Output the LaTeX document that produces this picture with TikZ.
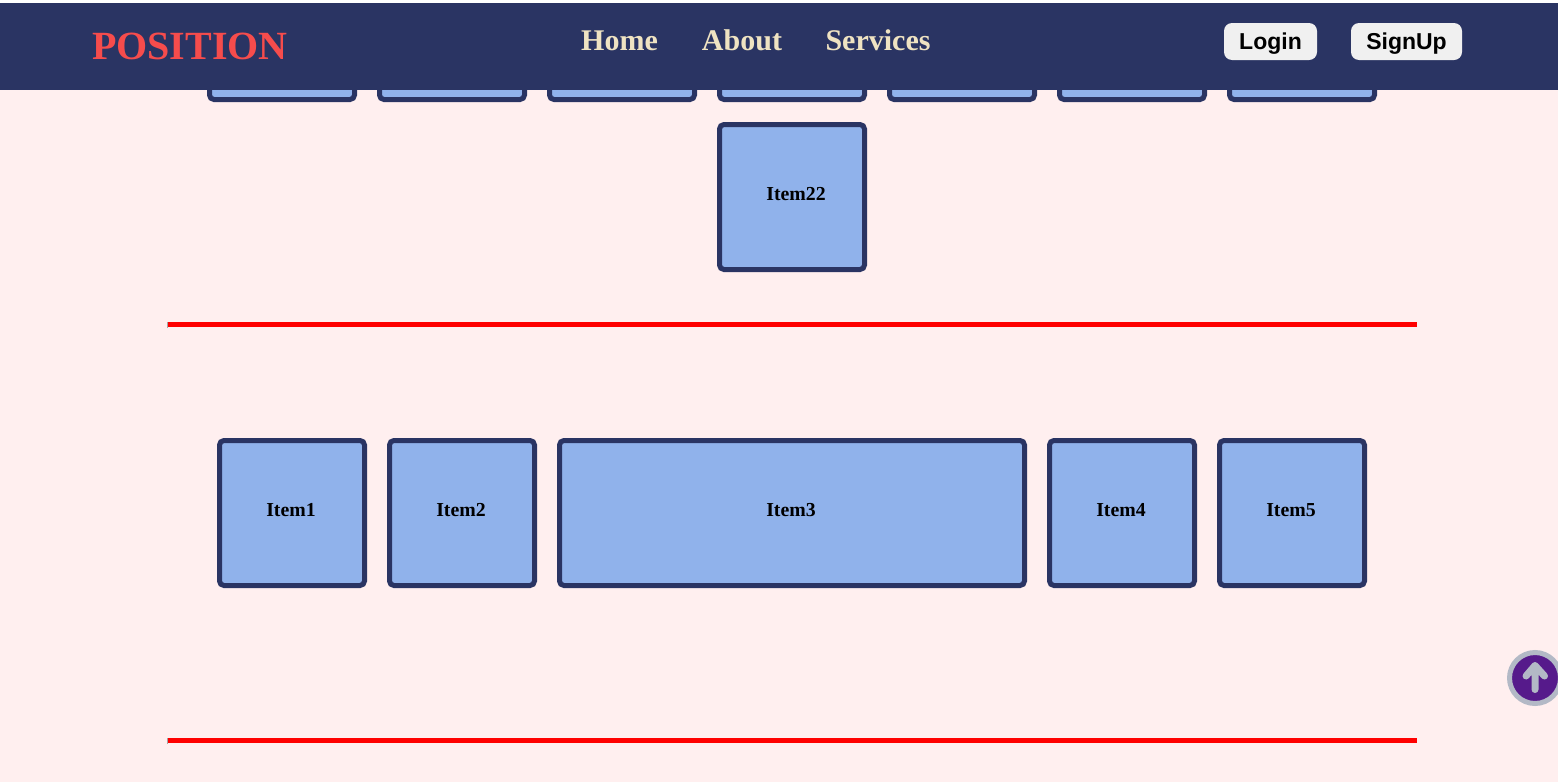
\documentclass[tikz,border=0pt]{standalone}
\usepackage{xcolor}
\usepackage{fontspec}
\setmainfont{Liberation Serif}
\setsansfont{Liberation Sans}
\usepackage{tikz}
\usetikzlibrary{positioning}
\definecolor{navy}{HTML}{2A3463}
\definecolor{pagebg}{HTML}{FFEFEF}
\definecolor{itemblue}{HTML}{90B2EB}
\definecolor{logored}{HTML}{F64C4C}
\definecolor{navcream}{HTML}{EFE3C2}
\definecolor{btngray}{HTML}{F0F0F0}
\definecolor{upring}{HTML}{B3B9C6}
\definecolor{uppurple}{HTML}{561A8B}

\begin{document}
\begin{tikzpicture}[
    x=1pt, y=-1pt,
    node distance=20pt,
    box/.style={draw=navy, fill=itemblue, line width=5pt, rounded corners=4.5pt,
                minimum width=145pt, minimum height=145pt, inner sep=0pt},
    stub/.style={box, minimum height=22pt},
    itemtext/.style={inner sep=0pt, font=\fontsize{19.8}{23}\selectfont\bfseries},
    navlink/.style={inner sep=0pt, text=navcream, text height=21pt, text depth=0pt,
                font=\fontsize{30}{34}\selectfont\bfseries},
    btn/.style={fill=btngray, rounded corners=8pt, minimum height=37pt, inner sep=0pt,
                text height=22pt, text depth=6pt,
                font=\fontsize{23}{27}\selectfont\sffamily\bfseries},
    rule/.style={fill=red, minimum width=1249pt, minimum height=5pt, inner sep=0pt}
]
\useasboundingbox (0,0) rectangle (1558,782);
\fill[white] (0,0) rectangle (1558,782);
\fill[pagebg] (0,3) rectangle (1558,782);

% rows that scroll under the header
\node[stub, anchor=south west] (top1) at (207,102) {};
\node[stub, right=of top1] (top2) {};
\node[stub, right=of top2] (top3) {};
\node[stub, right=of top3] (top4) {};
\node[stub, right=of top4] (top5) {};
\node[stub, right=of top5] (top6) {};
\node[stub, right=of top6] (top7) {};
\node[box, anchor=north west] (item22) at (717,122) {};
\node[itemtext] (label22) at (796,194) {Item22};

\fill[gray!70] (167,322) rectangle (168,328);
\node[rule, anchor=north west] (rule1) at (168,322) {};

% second row
\node[box, anchor=north west] (item1) at (217,438) {};
\node[box, right=of item1] (item2) {};
\node[box, right=of item2, minimum width=465pt] (item3) {};
\node[box, right=of item3] (item4) {};
\node[box, right=of item4] (item5) {};
\node[itemtext] (label1) at (291,510) {Item1};
\node[itemtext] (label2) at (461,510) {Item2};
\node[itemtext] (label3) at (791,510) {Item3};
\node[itemtext] (label4) at (1121,510) {Item4};
\node[itemtext] (label5) at (1291,510) {Item5};

\fill[gray!70] (167,738) rectangle (168,744);
\node[rule, anchor=north west] (rule2) at (168,738) {};

% header
\fill[navy] (0,3) rectangle (1558,90);
\node[inner sep=0pt, text=logored, font=\fontsize{40}{46}\selectfont\bfseries] (logo) at (190,46) {POSITION};
\node[navlink] (home) at (619.5,40) {Home};
\node[navlink] (about) at (742,40) {About};
\node[navlink] (services) at (878,40) {Services};
\node[btn, minimum width=93pt] (login) at (1270.5,41.5) {Login};
\node[btn, minimum width=111pt] (signup) at (1406.5,41.5) {SignUp};

% back to top
\node[circle, draw=upring, fill=uppurple, line width=5pt, minimum size=51pt, inner sep=0pt] (upbtn) at (1535,678) {};
\draw[upring, line width=7pt, line cap=round, line join=round]
    (1535,689.5) -- (1535,665.5) (1526,676) -- (1535,665.5) -- (1544.5,676);
\end{tikzpicture}
\end{document}
